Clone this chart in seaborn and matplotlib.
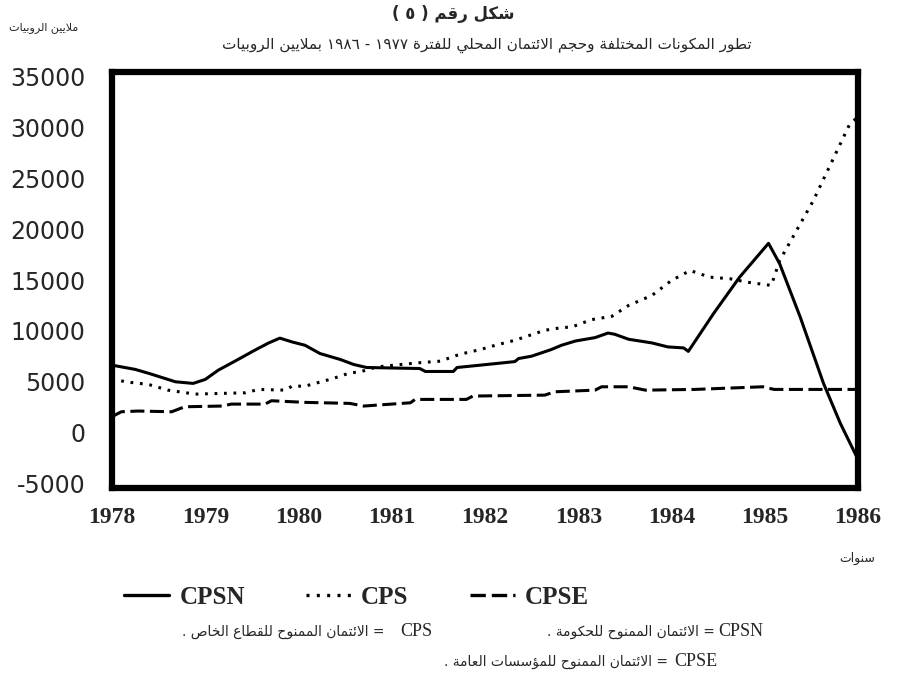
import re
import pandas as pd
import matplotlib
matplotlib.use('Agg')
import matplotlib.pyplot as plt
from matplotlib.lines import Line2D
import seaborn as sns

# Datos (anio, millones de rupias)
CPSN_YEARS = [1978.00, 1978.25, 1978.40, 1978.68, 1978.87, 1979.00, 1979.14, 1979.35, 1979.53,
              1979.68, 1979.80, 1979.93, 1980.07, 1980.23, 1980.45, 1980.59, 1980.73, 1981.30,
              1981.36, 1981.66, 1981.70, 1982.11, 1982.32, 1982.36, 1982.50, 1982.71, 1982.82,
              1982.97, 1983.18, 1983.32, 1983.39, 1983.54, 1983.79, 1983.96, 1984.13, 1984.18,
              1984.45, 1984.73, 1985.04, 1985.16, 1985.38, 1985.63, 1985.81, 1986.00]
CPSN_VALUES = [6650, 6230, 5830, 5020, 4860, 5250, 6160, 7200, 8110,
               8830, 9300, 8930, 8600, 7790, 7200, 6720, 6420, 6320,
               6030, 6030, 6420, 6800, 7000, 7300, 7530, 8180, 8600,
               9020, 9350, 9800, 9680, 9190, 8830, 8440, 8340, 8000,
               11700, 15280, 18600, 16590, 11370, 4860, 950, -2600]

CPS_YEARS = [1978.00, 1978.14, 1978.39, 1978.60, 1978.89, 1979.43, 1979.57, 1979.86, 1979.93,
             1980.07, 1980.37, 1980.55, 1980.66, 1980.84, 1981.27, 1981.52, 1981.73, 1981.95,
             1982.11, 1982.32, 1982.64, 1982.82, 1982.93, 1983.14, 1983.36, 1983.54, 1983.79,
             1984.00, 1984.20, 1984.41, 1984.63, 1984.81, 1985.07, 1985.16, 1985.52, 1985.91,
             1986.00]
CPS_VALUES = [5340, 5020, 4760, 4200, 3810, 3940, 4270, 4200, 4590,
              4590, 5340, 5890, 5990, 6480, 6870, 7040, 7720, 8180,
              8600, 9090, 10070, 10330, 10390, 11110, 11440, 12510, 13490,
              14960, 15930, 15280, 15120, 14790, 14470, 16910, 22780, 30270,
              31000]

CPSE_YEARS = [1978.00, 1978.10, 1978.28, 1978.64, 1978.78, 1979.18, 1979.28, 1979.64, 1979.71,
              1980.07, 1980.55, 1980.70, 1981.20, 1981.25, 1981.80, 1981.87, 1982.64, 1982.75,
              1983.18, 1983.25, 1983.54, 1983.72, 1984.25, 1984.98, 1985.10, 1986.00]
CPSE_VALUES = [1600, 2080, 2150, 2080, 2570, 2640, 2830, 2830, 3160,
               3000, 2900, 2640, 2960, 3290, 3290, 3620, 3710, 4040,
               4200, 4530, 4530, 4200, 4270, 4530, 4270, 4270]

SERIES = ['CPSN', 'CPS', 'CPSE']
X_TICKS = list(range(1978, 1987))
Y_TICKS = list(range(-5000, 35001, 5000))

TITLE = 'شكل رقم ( ٥ )'
SUBTITLE = 'تطور المكونات المختلفة وحجم الائتمان المحلي للفترة ١٩٧٧ - ١٩٨٦ بملايين الروبيات'
UNIT = 'ملايين الروبيات'
XLABEL = 'سنوات'
NOTE_CPS = '= الائتمان الممنوح للقطاع الخاص .'
NOTE_CPSN = '= الائتمان الممنوح للحكومة .'
NOTE_CPSE = '= الائتمان الممنوح للمؤسسات العامة .'

# Formas de presentacion arabes (matplotlib no hace "shaping" ni RTL)
ARABIC = {'ء': (0xFE80, 0), 'آ': (0xFE81, 1), 'أ': (0xFE83, 1), 'ؤ': (0xFE85, 1),
          'إ': (0xFE87, 1), 'ئ': (0xFE89, 2), 'ا': (0xFE8D, 1), 'ب': (0xFE8F, 2),
          'ة': (0xFE93, 1), 'ت': (0xFE95, 2), 'ث': (0xFE99, 2), 'ج': (0xFE9D, 2),
          'ح': (0xFEA1, 2), 'خ': (0xFEA5, 2), 'د': (0xFEA9, 1), 'ذ': (0xFEAB, 1),
          'ر': (0xFEAD, 1), 'ز': (0xFEAF, 1), 'س': (0xFEB1, 2), 'ش': (0xFEB5, 2),
          'ص': (0xFEB9, 2), 'ض': (0xFEBD, 2), 'ط': (0xFEC1, 2), 'ظ': (0xFEC5, 2),
          'ع': (0xFEC9, 2), 'غ': (0xFECD, 2), 'ف': (0xFED1, 2), 'ق': (0xFED5, 2),
          'ك': (0xFED9, 2), 'ل': (0xFEDD, 2), 'م': (0xFEE1, 2), 'ن': (0xFEE5, 2),
          'ه': (0xFEE9, 2), 'و': (0xFEED, 1), 'ى': (0xFEEF, 1), 'ي': (0xFEF1, 2)}
LAM_ALEF = {'ا': 0xFEFB, 'أ': 0xFEF7, 'إ': 0xFEF9, 'آ': 0xFEF5}


def ar(text):
    out = []
    i = 0
    n = len(text)
    while i < n:
        c = text[i]
        if c not in ARABIC:
            out.append(c)
            i += 1
            continue
        prev = text[i - 1] if i > 0 else ''
        join_prev = prev in ARABIC and ARABIC[prev][1] == 2
        if c == 'ل' and i + 1 < n and text[i + 1] in LAM_ALEF:
            out.append(chr(LAM_ALEF[text[i + 1]] + (1 if join_prev else 0)))
            i += 2
            continue
        base, jt = ARABIC[c]
        nxt = text[i + 1] if i + 1 < n else ''
        join_next = jt == 2 and nxt in ARABIC and ARABIC[nxt][1] > 0
        if jt == 0:
            form = 0
        elif join_prev and join_next:
            form = 3
        elif join_next:
            form = 2
        elif join_prev:
            form = 1
        else:
            form = 0
        out.append(chr(base + form))
        i += 1
    s = ''.join(out)[::-1]
    s = re.sub(r'[0-9\u0660-\u0669]+', lambda m: m.group(0)[::-1], s)
    return s.translate(str.maketrans('()', ')('))


data = pd.concat([
    pd.DataFrame({'year': CPSN_YEARS, 'value': CPSN_VALUES, 'serie': 'CPSN'}),
    pd.DataFrame({'year': CPS_YEARS, 'value': CPS_VALUES, 'serie': 'CPS'}),
    pd.DataFrame({'year': CPSE_YEARS, 'value': CPSE_VALUES, 'serie': 'CPSE'}),
], ignore_index=True)

sns.set_style('white')
plt.rcParams['font.family'] = ['DejaVu Sans']

fig = plt.figure(figsize=(9.07, 6.78), dpi=100)
ax = fig.add_axes([0.1235, 0.2802, 0.8225, 0.6136])

dashes = {'CPSN': '', 'CPS': (0.9, 2.2), 'CPSE': (4.6, 1.8)}
sns.lineplot(data=data, x='year', y='value', style='serie', style_order=SERIES,
             dashes=dashes, color='black', linewidth=2.2, estimator=None,
             sort=False, legend=False, ax=ax)

ax.set_xlim(1978, 1986)
ax.set_ylim(-5400, 35400)
ax.set_xticks(X_TICKS)
ax.set_xticklabels([str(y) for y in X_TICKS], family='Liberation Serif',
                   fontweight='bold', fontsize=17)
ax.set_yticks(Y_TICKS)
ax.set_yticklabels([str(v) for v in Y_TICKS], family='DejaVu Sans', fontsize=17)
ax.tick_params(axis='y', direction='out', length=5, width=1.8, pad=14, color='black')
ax.tick_params(axis='x', length=0, pad=14)
ax.set_xlabel('')
ax.set_ylabel('')
for sp in ax.spines.values():
    sp.set_visible(True)
    sp.set_color('black')
    sp.set_linewidth(4.5)

# Titulos
fig.text(0.5, 0.980, ar(TITLE), ha='center', va='center', fontsize=12,
         fontweight='bold', family='DejaVu Sans')
fig.text(0.537, 0.934, ar(SUBTITLE), ha='center', va='center', fontsize=11,
         family='DejaVu Sans')
fig.text(0.0485, 0.959, ar(UNIT), ha='center', va='center', fontsize=8,
         family='DejaVu Sans')
fig.text(0.945, 0.177, ar(XLABEL), ha='center', va='center', fontsize=9,
         family='DejaVu Sans')

# Leyenda
handles = [Line2D([], [], color='black', lw=2.4, dashes=dashes[s]) for s in SERIES]
fig.legend(handles, SERIES, loc='center left', bbox_to_anchor=(0.137, 0.119),
           ncol=3, frameon=False, handlelength=1.8, handletextpad=0.4,
           columnspacing=2.45, borderpad=0, borderaxespad=0,
           prop={'family': 'Liberation Serif', 'weight': 'bold', 'size': 18})

# Notas
fig.text(432 / 907, 0.068, 'CPS', ha='right', va='center', fontsize=13,
         family='Liberation Serif')
fig.text(385 / 907, 0.068, ar(NOTE_CPS), ha='right', va='center', fontsize=10,
         family='DejaVu Sans')
fig.text(763 / 907, 0.068, 'CPSN', ha='right', va='center', fontsize=13,
         family='Liberation Serif')
fig.text(715 / 907, 0.068, ar(NOTE_CPSN), ha='right', va='center', fontsize=10,
         family='DejaVu Sans')
fig.text(717 / 907, 0.024, 'CPSE', ha='right', va='center', fontsize=13,
         family='Liberation Serif')
fig.text(668 / 907, 0.024, ar(NOTE_CPSE), ha='right', va='center', fontsize=10,
         family='DejaVu Sans')

fig.savefig('out.png', dpi=100, facecolor='white')
